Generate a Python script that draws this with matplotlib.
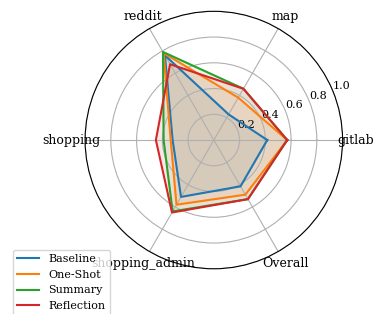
import matplotlib
matplotlib.use("Agg")
from matplotlib import pyplot as plt
import numpy as np

plt.rcParams['font.family'] = 'DejaVu Serif'

categories = ['gitlab', 'map', 'reddit', 'shopping', 'shopping_admin', 'Overall']

baseline = [0.415, 0.23, 0.76, 0.32, 0.51, 0.415]
one_shot = [0.57, 0.38, 0.78, 0.335, 0.58, 0.49]
summary = [0.57, 0.46, 0.79, 0.39, 0.64, 0.53]
reflection = [0.57, 0.46, 0.68, 0.45, 0.65, 0.53]

series = [('Baseline', baseline), ('One-Shot', one_shot),
          ('Summary', summary), ('Reflection', reflection)]

angles = np.linspace(0, 2 * np.pi, len(categories), endpoint=False)
angles_closed = np.concatenate([angles, angles[:1]])

fig = plt.figure(figsize=(3.75, 3.14), dpi=100)
ax = fig.add_axes([0.2267, 0.144, 0.687, 0.820], polar=True)

for name, vals in series:
    v = vals + vals[:1]
    line, = ax.plot(angles_closed, v, linewidth=1.5, label=name)
    ax.fill(angles_closed, v, color=line.get_color(), alpha=0.1)

ax.set_xticks(angles)
ax.set_xticklabels([])
# category names centred just outside the rim
for ang, cat in zip(angles, categories):
    ax.text(ang, 1.105, cat, ha='center', va='center', fontsize=9)

ax.set_ylim(0, 1.0)
ax.set_yticks([0.2, 0.4, 0.6, 0.8, 1.0])
ax.set_yticklabels(['0.2', '0.4', '0.6', '0.8', '1.0'], fontsize=8)
ax.spines['polar'].set_linewidth(0.8)

ax.legend(loc='upper left', bbox_to_anchor=(0.034, 0.204),
          bbox_transform=fig.transFigure, borderaxespad=0, fontsize=8)

fig.savefig('out.png', dpi=100)
